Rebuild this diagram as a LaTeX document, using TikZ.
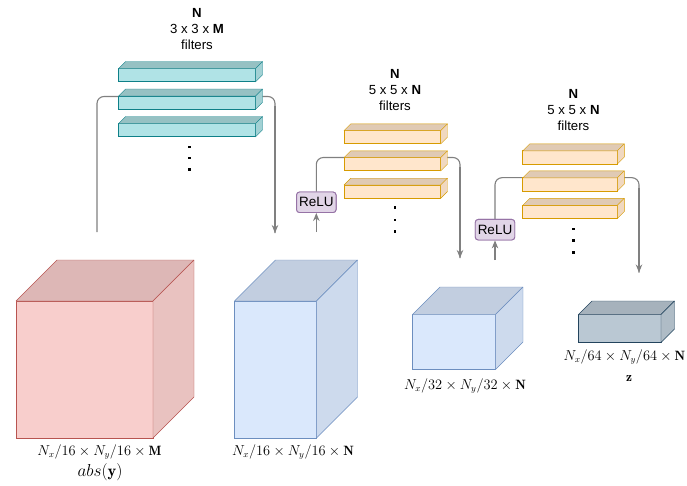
\documentclass[tikz,border=0pt]{standalone}
\usepackage{fontspec}
\newfontfamily\lsans{Liberation Sans}
\usetikzlibrary{arrows.meta}
\definecolor{redfill}{HTML}{F8CECC}
\definecolor{redline}{HTML}{B85450}
\definecolor{bluefill}{HTML}{DAE8FC}
\definecolor{blueline}{HTML}{6C8EBF}
\definecolor{darkfill}{HTML}{BAC8D3}
\definecolor{darkline}{HTML}{23445D}
\definecolor{tealfill}{HTML}{B0E3E6}
\definecolor{tealline}{HTML}{0E8088}
\definecolor{orfill}{HTML}{FFE6CC}
\definecolor{orline}{HTML}{D79B00}
\definecolor{relufill}{HTML}{E1D5E7}
\definecolor{reluline}{HTML}{9673A6}
\definecolor{conngray}{HTML}{808080}
\newcommand{\extrude}[5]{%
  \filldraw[draw=#5,fill=#3,line join=round] (#1.north west) -- ++(#2,-#2) -- ([shift={(#2,-#2)}]#1.north east) -- (#1.north east) -- cycle;
  \filldraw[draw=#5,fill=#4,line join=round] (#1.north east) -- ++(#2,-#2) -- ([shift={(#2,-#2)}]#1.south east) -- (#1.south east) -- cycle;}
\tikzset{
  face/.style={draw, rectangle, inner sep=0pt, outer sep=0pt, line width=0.9pt},
  redface/.style={face, draw=redline, fill=redfill},
  blueface/.style={face, draw=blueline, fill=bluefill},
  darkface/.style={face, draw=darkline, fill=darkfill},
  tealbar/.style={face, draw=tealline, fill=tealfill, minimum width=137pt, minimum height=13.3pt},
  orbar/.style={face, draw=orline, fill=orfill, minimum height=13.3pt},
  conn/.style={draw=conngray, line width=1.1pt, rounded corners=7pt},
  tip/.style={-{Stealth[length=8pt,width=6.5pt]}},
  relu/.style={draw=reluline, fill=relufill, rounded corners=3pt, line width=0.9pt, minimum width=39.5pt, minimum height=20.5pt, inner sep=0pt, font=\lsans\fontsize{13.5}{15}\selectfont},
  title/.style={align=center, font=\lsans\fontsize{13.2}{16}\selectfont, inner sep=0pt},
  mlabel/.style={font=\fontsize{13.5}{16}\selectfont, inner sep=0pt},
  dotmark/.style={fill=black}
}
\begin{document}
\begin{tikzpicture}[x=1pt,y=-1pt]
\useasboundingbox (0,0) rectangle (687,486);

% ---------- titles ----------
\node[title] (t1) at (197,28.8) {\textbf{N}\\3 x 3 x \textbf{M}\\filters};
\node[title] (t2) at (395,89.6) {\textbf{N}\\5 x 5 x \textbf{N}\\filters};
\node[title] (t3) at (573.5,110.2) {\textbf{N}\\5 x 5 x \textbf{N}\\filters};

% ---------- connectors (behind) ----------
\coordinate (s1) at (97,232);
\coordinate (e1) at (275,233);
\coordinate (s2) at (316.3,232);
\coordinate (e2) at (460,258);
\coordinate (s3) at (495,260);
\coordinate (e3) at (639,272.5);
\coordinate (h1) at (187,96.5);
\coordinate (h2) at (392,157.5);
\coordinate (h3) at (570,177.7);

\node[relu] (r1) at (316.3,202.3) {ReLU};
\node[relu] (r2) at (495,229.7) {ReLU};

\draw[conn] (s1) |- (h1) -| (e1);
\draw[conn,tip] (h1 -| e1) ++(0,10) -- (e1);
\draw[conn,tip] (s2) -- (r1.south);
\draw[conn] (r1.north) |- (h2) -| (e2);
\draw[conn,tip] (h2 -| e2) ++(0,10) -- (e2);
\draw[conn,tip] (s3) -- (r2.south);
\draw[conn] (r2.north) |- (h3) -| (e3);
\draw[conn,tip] (h3 -| e3) ++(0,10) -- (e3);
\node[relu] at (r1) {ReLU};
\node[relu] at (r2) {ReLU};

% ---------- teal filters ----------
\node[tealbar] (fa1) at (187,75.2) {};
\extrude{fa1}{7}{tealfill!85!black}{tealfill!92!black}{tealline}
\node[tealbar] (fa2) at (187,102.7) {};
\extrude{fa2}{7}{tealfill!85!black}{tealfill!92!black}{tealline}
\node[tealbar] (fa3) at (187,130.2) {};
\extrude{fa3}{7}{tealfill!85!black}{tealfill!92!black}{tealline}
\foreach \yy in {147,158,169.3} \fill[dotmark] (189.3,\yy) +(-1.4,-1.4) rectangle +(1.4,1.4);

% ---------- orange filters (2) ----------
\node[orbar, minimum width=96.7pt] (fb1) at (392.3,137.3) {};
\extrude{fb1}{6.8}{orfill!88!black}{orfill!94!black}{orline}
\node[orbar, minimum width=96.7pt] (fb2) at (392.3,164.3) {};
\extrude{fb2}{6.8}{orfill!88!black}{orfill!94!black}{orline}
\node[orbar, minimum width=96.7pt] (fb3) at (392.3,191.7) {};
\extrude{fb3}{6.8}{orfill!88!black}{orfill!94!black}{orline}
\foreach \yy in {207.7,220,231.7} \fill[dotmark] (395,\yy) +(-1.4,-1.4) rectangle +(1.4,1.4);

% ---------- orange filters (3) ----------
\node[orbar, minimum width=94.6pt] (fc1) at (570,157.5) {};
\extrude{fc1}{7}{orfill!88!black}{orfill!94!black}{orline}
\node[orbar, minimum width=94.6pt] (fc2) at (570,184.5) {};
\extrude{fc2}{7}{orfill!88!black}{orfill!94!black}{orline}
\node[orbar, minimum width=94.6pt] (fc3) at (570,212) {};
\extrude{fc3}{7}{orfill!88!black}{orfill!94!black}{orline}
\foreach \yy in {229,240.7,252.3} \fill[dotmark] (573.3,\yy) +(-1.4,-1.4) rectangle +(1.4,1.4);

% ---------- tensors ----------
\node[redface, minimum width=137pt, minimum height=137pt] (c1) at (84.5,369.5) {};
\extrude{c1}{41}{redfill!89!black}{redfill!94!black}{redline}
\node[blueface, minimum width=82pt, minimum height=137pt] (c2) at (275.5,369.5) {};
\extrude{c2}{41}{bluefill!89!black}{bluefill!94!black}{blueline}
\node[blueface, minimum width=83pt, minimum height=55pt] (c3) at (454,342) {};
\extrude{c3}{27.5}{bluefill!89!black}{bluefill!94!black}{blueline}
\node[darkface, minimum width=82.5pt, minimum height=28pt] (c4) at (619.75,328.5) {};
\extrude{c4}{13.5}{darkfill!89!black}{darkfill!94!black}{darkline}

% ---------- labels ----------
\node[mlabel] (l1) at (99.5,452) {$N_x/16\times N_y/16\times\mathbf{M}$};
\node[mlabel, font=\fontsize{16.5}{19}\selectfont] (l1b) at (100,472) {$abs(\mathbf{y})$};
\node[mlabel] (l2) at (293,452) {$N_x/16\times N_y/16\times\mathbf{N}$};
\node[mlabel] (l3) at (465,386) {$N_x/32\times N_y/32\times\mathbf{N}$};
\node[mlabel, anchor=east] (l4) at (685.5,357) {$N_x/64\times N_y/64\times\mathbf{N}$};
\node[mlabel] (l4b) at (629,378.7) {$\mathbf{z}$};
\end{tikzpicture}
\end{document}
